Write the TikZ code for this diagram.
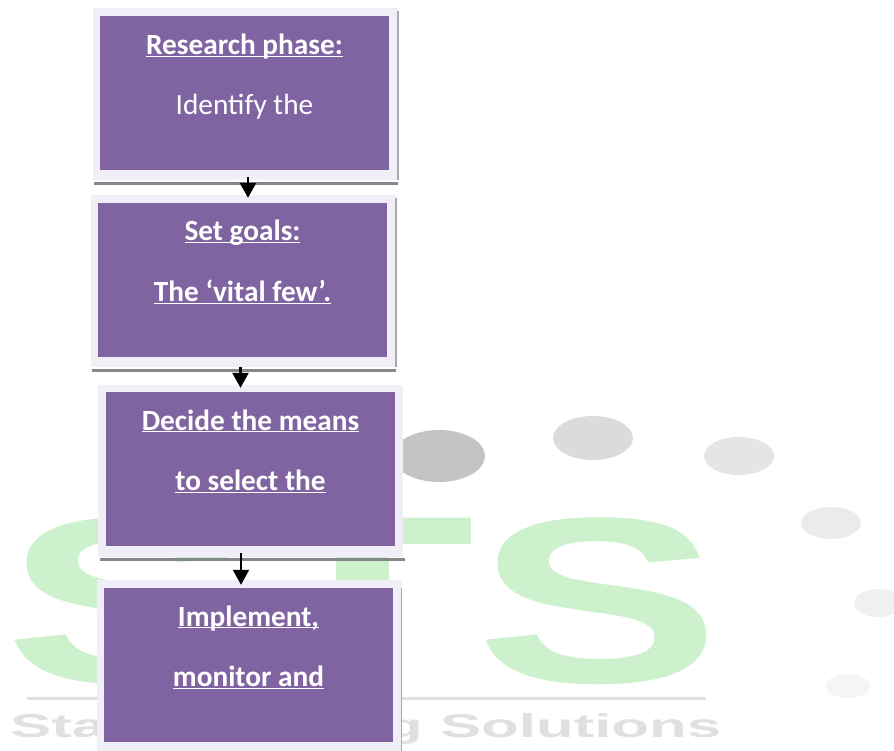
\documentclass[tikz,border=0pt]{standalone}
\usepackage{fontspec}
\setmainfont{Carlito}
\newfontfamily\logofont{Liberation Sans}
\definecolor{boxpurple}{HTML}{8064A2}
\definecolor{boxframe}{HTML}{F0EEF7}
\definecolor{boxshadow}{HTML}{85858A}
\definecolor{logogreen}{HTML}{CDF1CD}
\definecolor{logogrey}{HTML}{E0E0E0}
\newcommand{\boxlines}[1]{\parbox[c][154pt][t]{289pt}{\centering\fontsize{29.3}{60.5}\selectfont\vspace*{38pt}#1\par}}
\newcommand{\ul}[1]{\underline{\smash{#1}}}
\newcommand{\logoletter}[1]{\scalebox{1.56}[1]{\logofont\bfseries\fontsize{236}{236}\selectfont #1}}
\newcommand{\logotext}[1]{\scalebox{1.87}[1]{\logofont\bfseries\fontsize{33}{33}\selectfont #1}}
\tikzset{
  framebox/.style={fill=boxframe,draw=none,inner sep=0pt,minimum width=305pt,minimum height=172pt},
  phasebox/.style={fill=boxpurple,draw=none,text=white,inner sep=0pt,minimum width=289pt,minimum height=154pt},
  boxedge/.style={draw=boxshadow,line width=3pt},
  flow/.style={draw=black,line width=2.5pt,-{Triangle[length=15pt,width=16pt]}},
  dot/.style={ellipse,draw=none,inner sep=0pt},
  logoletternode/.style={text=logogreen,inner sep=0pt,anchor=base},
  logotextnode/.style={text=logogrey,inner sep=0pt,anchor=base west}
}
\usetikzlibrary{arrows.meta,shapes.geometric}
\begin{document}
\begin{tikzpicture}[x=1pt,y=-1pt]
\clip (0,0) rectangle (894,751);
\fill[white] (0,0) rectangle (894,751);
% logo
\node[dot,fill=black!23,minimum width=92pt,minimum height=52pt] (d1) at (439,456) {};
\node[dot,fill=black!14,minimum width=80pt,minimum height=44pt] (d2) at (593,438) {};
\node[dot,fill=black!10,minimum width=70pt,minimum height=38pt] (d3) at (739,456) {};
\node[dot,fill=black!8,minimum width=60pt,minimum height=32pt] (d4) at (831,523) {};
\node[dot,fill=black!6,minimum width=48pt,minimum height=28pt] (d5) at (878,603) {};
\node[dot,fill=black!4,minimum width=44pt,minimum height=24pt] (d6) at (848,686) {};
\node[logoletternode] (s1) at (127,682) {\logoletter{S}};
\node[logoletternode] (t1) at (363,680) {\logoletter{T}};
\node[logoletternode] (s2) at (598,682) {\logoletter{S}};
\fill[logogrey] (27,696.5) rectangle (706,699.5);
\node[logotextnode] (w1) at (10,737) {\logotext{Sta}};
\node[logotextnode] (w2) at (385,737) {\logotext{g Solutions}};
% frames
\node[framebox] (f1) at (245.5,94) {};
\node[framebox] (f2) at (243.5,281) {};
\node[framebox] (f3) at (250.5,471) {};
\node[framebox] (f4) at (249,666) {};
\draw[boxedge] (f1.south west) ++(1,3) -- ++(304,0);
\draw[boxedge] (f2.south west) ++(1,3) -- ++(304,0);
\draw[boxedge] (f3.south west) ++(2,2) -- ++(305,0);
\draw[draw=boxshadow!70,line width=1.5pt] (f1.north east) ++(0,3) -- (f1.south east);
\draw[draw=boxshadow!70,line width=1.5pt] (f2.north east) ++(0,3) -- (f2.south east);
\draw[draw=boxshadow!70,line width=1.5pt] (f4.north east) ++(0,8) -- (f4.south east);
% boxes
\node[phasebox] (b1) at (244.5,93.5) {\boxlines{\textbf{\ul{Research phase:}}\\Identify the}};
\node[phasebox] (b2) at (242.5,280) {\boxlines{\textbf{\ul{Set goals:}}\\\textbf{\ul{The ‘vital few’.}}}};
\node[phasebox] (b3) at (250.5,469) {\boxlines{\textbf{\ul{Decide the means}}\\\textbf{\ul{to select the}}}};
\node[phasebox] (b4) at (248.5,665) {\boxlines{\textbf{\ul{Implement,}}\\\textbf{\ul{monitor and}}}};
% connectors
\draw[flow] ([xshift=3.5pt,yshift=-6pt]b1.south) -- ([xshift=5.5pt,yshift=5pt]b2.north);
\draw[flow] ([xshift=-2pt,yshift=-10pt]b2.south) -- ([xshift=-10pt,yshift=4pt]b3.north);
\draw[flow,line width=2pt] ([xshift=-9.5pt,yshift=-7pt]b3.south) -- ([xshift=-7.5pt,yshift=3pt]b4.north);
\end{tikzpicture}
\end{document}
